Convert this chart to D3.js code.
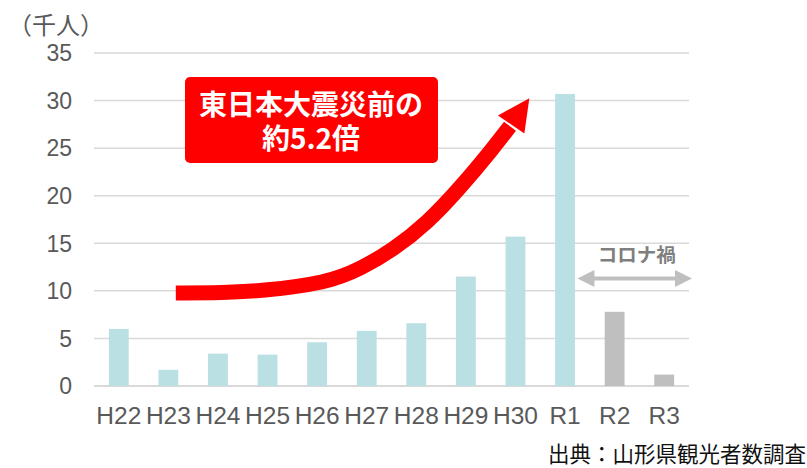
<!DOCTYPE html>
<html>
<head>
<meta charset="utf-8">
<script src="https://cdn.jsdelivr.net/npm/d3@7"></script>
<style>
  html, body { margin: 0; padding: 0; background: #fff; }
  svg { display: block; }
</style>
</head>
<body>
<div id="chart"></div>
<script>
// data
const categories = ['H22', 'H23', 'H24', 'H25', 'H26', 'H27', 'H28', 'H29', 'H30', 'R1', 'R2', 'R3'];
const visitors = [6.0, 1.7, 3.4, 3.3, 4.6, 5.8, 6.6, 11.5, 15.7, 30.7, 7.8, 1.2];
const covidYears = ['R2', 'R3'];
const yTicks = [0, 5, 10, 15, 20, 25, 30, 35];
// growth arrow, in (category index, value) units
const arrowPath = [[1.65, 9.78], [2.6, 9.8], [3.35, 9.98], [4.70, 10.83], [5.37, 12.3], [6.03, 14.3], [6.72, 17.13], [7.38, 20.8], [8.05, 25.0], [8.39, 27.3]];
const arrowTip = [8.78, 30.25];

const width = 807, height = 468;
const margin = { top: 53, right: 118, bottom: 82, left: 94 };

const svg = d3.select('#chart').append('svg')
  .attr('width', width)
  .attr('height', height);

const x = d3.scaleBand()
  .domain(categories)
  .range([margin.left, width - margin.right])
  .paddingInner(0.6)
  .paddingOuter(0.3);

const y = d3.scaleLinear()
  .domain([0, 35])
  .range([height - margin.bottom, margin.top]);

// continuous x for annotations (index -> px)
const xi = d3.scaleLinear()
  .domain([0, categories.length])
  .range([margin.left, width - margin.right]);

const latin = '"Liberation Sans", Arial, "Noto Sans CJK JP", sans-serif';
const jp = '"Noto Sans CJK JP", sans-serif';

// gridlines
svg.append('g')
  .selectAll('line')
  .data(yTicks)
  .enter().append('line')
  .attr('x1', margin.left)
  .attr('x2', width - margin.right)
  .attr('y1', d => y(d))
  .attr('y2', d => y(d))
  .attr('stroke', '#d9d9d9')
  .attr('stroke-width', d => d === 0 ? 2 : 1.5);

// y labels
svg.append('g')
  .selectAll('text')
  .data(yTicks)
  .enter().append('text')
  .attr('x', 72)
  .attr('y', d => y(d))
  .attr('dy', '0.36em')
  .attr('text-anchor', 'end')
  .attr('font-family', latin)
  .attr('font-size', 23)
  .attr('fill', '#595959')
  .text(d => d);

svg.append('text')
  .attr('x', 8)
  .attr('y', 34)
  .attr('font-family', jp)
  .attr('font-size', 24)
  .attr('fill', '#595959')
  .text('（千人）');

// bars
svg.append('g')
  .selectAll('rect')
  .data(categories)
  .enter().append('rect')
  .attr('x', d => x(d))
  .attr('width', x.bandwidth())
  .attr('y', (d, i) => y(visitors[i]))
  .attr('height', (d, i) => y(0) - y(visitors[i]))
  .attr('fill', d => covidYears.includes(d) ? '#bfbfbf' : '#bae0e3');

// x labels
svg.append('g')
  .selectAll('text')
  .data(categories)
  .enter().append('text')
  .attr('x', d => x(d) + x.bandwidth() / 2)
  .attr('y', 424)
  .attr('text-anchor', 'middle')
  .attr('font-family', latin)
  .attr('font-size', 24.5)
  .attr('fill', '#595959')
  .text(d => d);

// red growth arrow
const arrowLine = d3.line()
  .x(d => xi(d[0]))
  .y(d => y(d[1]))
  .curve(d3.curveBasis);

svg.append('path')
  .attr('d', arrowLine(arrowPath))
  .attr('fill', 'none')
  .attr('stroke', '#ff0000')
  .attr('stroke-width', 15);

const last = arrowPath[arrowPath.length - 1];
const tx = xi(arrowTip[0]), ty = y(arrowTip[1]);
const bx = xi(last[0]), by = y(last[1]);
const ang = Math.atan2(ty - by, tx - bx);
const headLen = 32, headHalf = 16;
const hx = tx - headLen * Math.cos(ang), hy = ty - headLen * Math.sin(ang);
const px = -Math.sin(ang), py = Math.cos(ang);
svg.append('path')
  .attr('d', `M${tx},${ty}L${hx + px * headHalf},${hy + py * headHalf}L${hx - px * headHalf},${hy - py * headHalf}Z`)
  .attr('fill', '#ff0000');

// callout box
svg.append('rect')
  .attr('x', 185)
  .attr('y', 77)
  .attr('width', 253)
  .attr('height', 86)
  .attr('rx', 5)
  .attr('fill', '#ff0000');

const callout = svg.append('text')
  .attr('text-anchor', 'middle')
  .attr('font-family', jp)
  .attr('font-weight', 'bold')
  .attr('font-size', 28)
  .attr('fill', '#fff');
callout.append('tspan').attr('x', 311).attr('y', 115).text('東日本大震災前の');
callout.append('tspan').attr('x', 311).attr('y', 149).text('約5.2倍');

// covid period double arrow
const cx0 = x('R2') - x.step() * 0.55, cx1 = width - margin.right + 3;
const cy = y(11.3);
svg.append('line')
  .attr('x1', cx0 + 14).attr('x2', cx1 - 14)
  .attr('y1', cy).attr('y2', cy)
  .attr('stroke', '#bfbfbf')
  .attr('stroke-width', 4);
svg.append('path')
  .attr('d', `M${cx0},${cy}L${cx0 + 17},${cy - 8.5}L${cx0 + 17},${cy + 8.5}Z`)
  .attr('fill', '#bfbfbf');
svg.append('path')
  .attr('d', `M${cx1},${cy}L${cx1 - 17},${cy - 8.5}L${cx1 - 17},${cy + 8.5}Z`)
  .attr('fill', '#bfbfbf');

svg.append('text')
  .attr('x', (cx0 + cx1) / 2 + 2)
  .attr('y', cy - 16)
  .attr('text-anchor', 'middle')
  .attr('font-family', jp)
  .attr('font-weight', 'bold')
  .attr('font-size', 19.5)
  .attr('fill', '#7f7f7f')
  .text('コロナ禍');

// source
svg.append('text')
  .attr('x', 806)
  .attr('y', 462)
  .attr('text-anchor', 'end')
  .attr('font-family', jp)
  .attr('font-size', 21.5)
  .attr('fill', '#111')
  .text('出典：山形県観光者数調査');
</script>
</body>
</html>
